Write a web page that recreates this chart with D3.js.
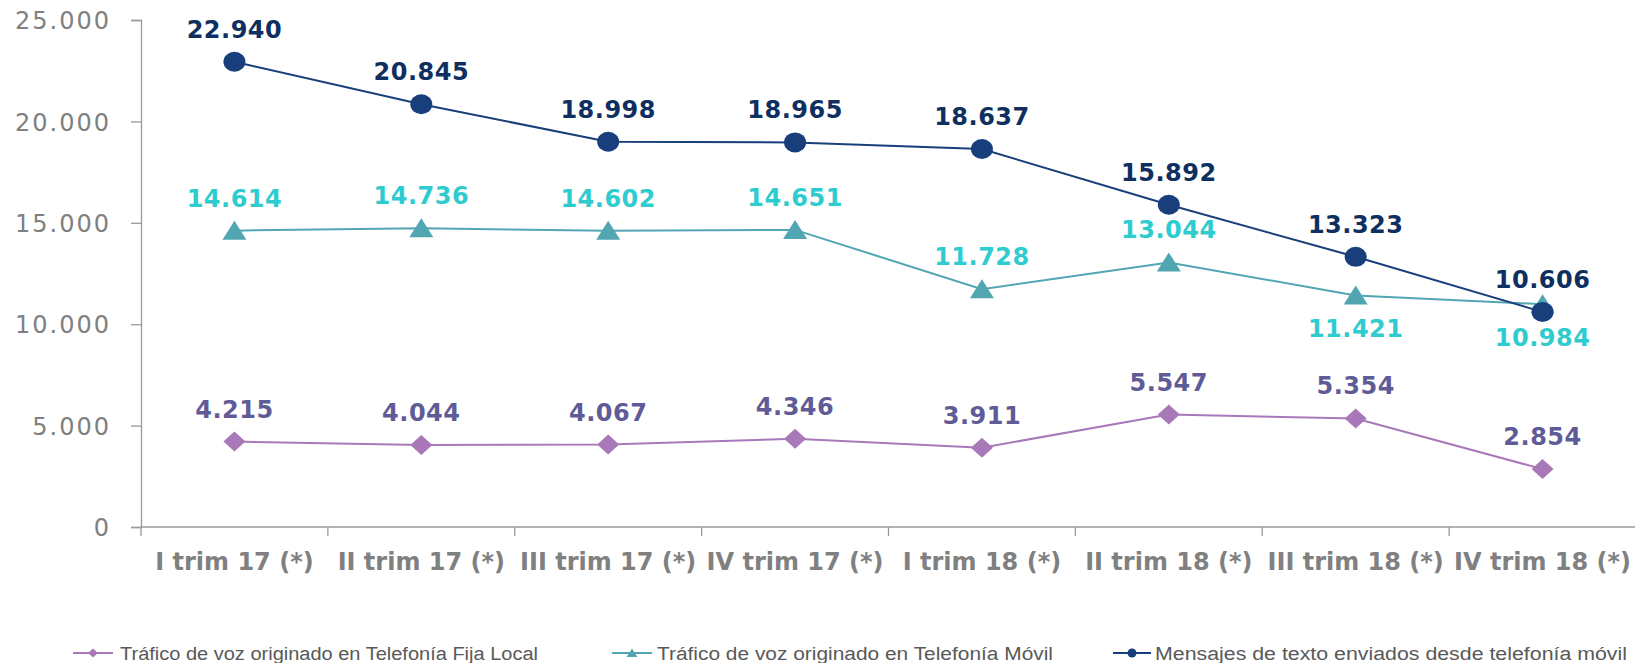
<!DOCTYPE html>
<html>
<head>
<meta charset="utf-8">
<script src="https://cdn.jsdelivr.net/npm/d3@7"></script>
<style>
  html, body { margin: 0; padding: 0; background: #fff; }
  svg { display: block; }
</style>
</head>
<body>
<svg id="chart" width="1635" height="663"></svg>
<script>
// ---- data ----
const categories = ["I trim 17 (*)", "II trim 17 (*)", "III trim 17 (*)", "IV trim 17 (*)",
                    "I trim 18 (*)", "II trim 18 (*)", "III trim 18 (*)", "IV trim 18 (*)"];
const fijaLocal = [4215, 4044, 4067, 4346, 3911, 5547, 5354, 2854];
const movilVoz  = [14614, 14736, 14602, 14651, 11728, 13044, 11421, 10984];
const mensajes  = [22940, 20845, 18998, 18965, 18637, 15892, 13323, 10606];
const yTicks = [0, 5000, 10000, 15000, 20000, 25000];
const seriesNames = ["Tráfico de voz originado en Telefonía Fija Local",
                     "Tráfico de voz originado en Telefonía Móvil",
                     "Mensajes de texto enviados desde telefonía móvil"];
// points whose value label sits below the marker (teal series)
const movilLabelsBelow = [6, 7];

// ---- setup ----
const svg = d3.select("#chart");
const fmt = d3.formatLocale({decimal: ",", thousands: ".", grouping: [3], currency: ["", ""]}).format(",d");

const x = d3.scaleBand().domain(categories).range([141, 1636]).paddingInner(0).paddingOuter(0);
const y = d3.scaleLinear().domain([0, 25000]).range([527, 20]);
const cx = c => x(c) + x.bandwidth() / 2;

const axisColor = "#9a9a9a";

// y axis
const yAxis = svg.append("g").attr("transform", "translate(141,0)")
  .call(d3.axisLeft(y).tickValues(yTicks).tickSize(10).tickPadding(20).tickFormat(fmt));
yAxis.select(".domain").attr("stroke", axisColor).attr("stroke-width", 1.3);
yAxis.selectAll(".tick line").attr("stroke", axisColor).attr("stroke-width", 1.3);
yAxis.selectAll(".tick text")
  .attr("fill", "#808080")
  .style("font-family", "'DejaVu Sans', sans-serif")
  .style("font-size", "24px")
  .style("letter-spacing", "2px")
  .attr("dy", "0.36em");

// x axis
const xAxis = svg.append("g").attr("transform", "translate(0,527)")
  .call(d3.axisBottom(x).tickSize(0).tickPadding(0));
xAxis.select(".domain").attr("d", `M141,0H1636`).attr("stroke", axisColor).attr("stroke-width", 1.3);
xAxis.selectAll(".tick text")
  .attr("y", 43)
  .attr("dy", null)
  .attr("fill", "#808080")
  .style("font-family", "'DejaVu Sans', sans-serif")
  .style("font-weight", "bold")
  .style("font-size", "24px");
// boundary tick marks
xAxis.selectAll(".bound").data(categories.concat(["__end"]))
  .enter().append("line").attr("class", "bound")
  .attr("x1", (d, i) => i < categories.length ? x(d) : x(categories[categories.length - 1]) + x.bandwidth())
  .attr("x2", (d, i) => i < categories.length ? x(d) : x(categories[categories.length - 1]) + x.bandwidth())
  .attr("y1", 0).attr("y2", 9)
  .attr("stroke", axisColor).attr("stroke-width", 1.3);

// ---- series ----
const series = [
  {name: seriesNames[0], values: fijaLocal, line: "#a878bb", marker: "#a878b8", label: "#5f5b97", shape: "diamond"},
  {name: seriesNames[1], values: movilVoz, line: "#52a5b2", marker: "#52a6b2", label: "#2fcccf", shape: "triangle"},
  {name: seriesNames[2], values: mensajes, line: "#193f7b", marker: "#183f7b", label: "#0f2f60", shape: "circle"}
];

function markerPath(shape, s) {
  if (shape === "diamond") return `M0,${-s}L${s*1.1},0L0,${s}L${-s*1.1},0Z`;
  if (shape === "triangle") return `M0,${-s*1.0}L${s*1.2},${s*0.9}L${-s*1.2},${s*0.9}Z`;
  return null;
}

const line = d3.line().x((d, i) => cx(categories[i])).y(d => y(d));

series.forEach((s, si) => {
  const g = svg.append("g");
  g.append("path").datum(s.values).attr("d", line)
    .attr("fill", "none").attr("stroke", s.line).attr("stroke-width", 2);
  const pts = g.selectAll(".pt").data(s.values).enter();
  if (s.shape === "circle") {
    pts.append("ellipse")
      .attr("cx", (d, i) => cx(categories[i])).attr("cy", d => y(d))
      .attr("rx", 11).attr("ry", 10).attr("fill", s.marker);
  } else {
    pts.append("path")
      .attr("transform", (d, i) => `translate(${cx(categories[i])},${y(d)})`)
      .attr("d", markerPath(s.shape, 10)).attr("fill", s.marker);
  }
});

// labels drawn after all lines so they sit on top
series.forEach((s, si) => {
  svg.append("g").selectAll("text").data(s.values).enter().append("text")
    .attr("x", (d, i) => cx(categories[i]))
    .attr("y", (d, i) => {
      const below = si === 1 && movilLabelsBelow.includes(i);
      return below ? y(d) + 42 : y(d) - 24;
    })
    .attr("text-anchor", "middle")
    .attr("fill", s.label)
    .style("font-family", "'DejaVu Sans', sans-serif")
    .style("font-weight", "bold")
    .style("font-size", "24px")
    .style("letter-spacing", "0.5px")
    .text(d => fmt(d));
});

// ---- legend ----
const legendItems = [
  {x0: 73, x1: 113, tx: 120, tw: 418},
  {x0: 612, x1: 652, tx: 657, tw: 396},
  {x0: 1113, x1: 1151, tx: 1155, tw: 472}
];
const ly = 653;
series.forEach((s, i) => {
  const it = legendItems[i];
  const g = svg.append("g");
  g.append("line").attr("x1", it.x0).attr("x2", it.x1).attr("y1", ly).attr("y2", ly)
    .attr("stroke", s.line).attr("stroke-width", 2);
  const mx = (it.x0 + it.x1) / 2;
  if (s.shape === "circle") {
    g.append("circle").attr("cx", mx).attr("cy", ly).attr("r", 4.5).attr("fill", s.marker);
  } else {
    g.append("path").attr("transform", `translate(${mx},${ly})`)
      .attr("d", markerPath(s.shape, 4.5)).attr("fill", s.marker);
  }
  g.append("text").attr("x", it.tx).attr("y", ly + 6.5)
    .attr("fill", "#595959")
    .attr("textLength", it.tw).attr("lengthAdjust", "spacingAndGlyphs")
    .style("font-family", "'Liberation Sans', Arial, sans-serif")
    .style("font-size", "18px")
    .text(s.name);
});
</script>
</body>
</html>
